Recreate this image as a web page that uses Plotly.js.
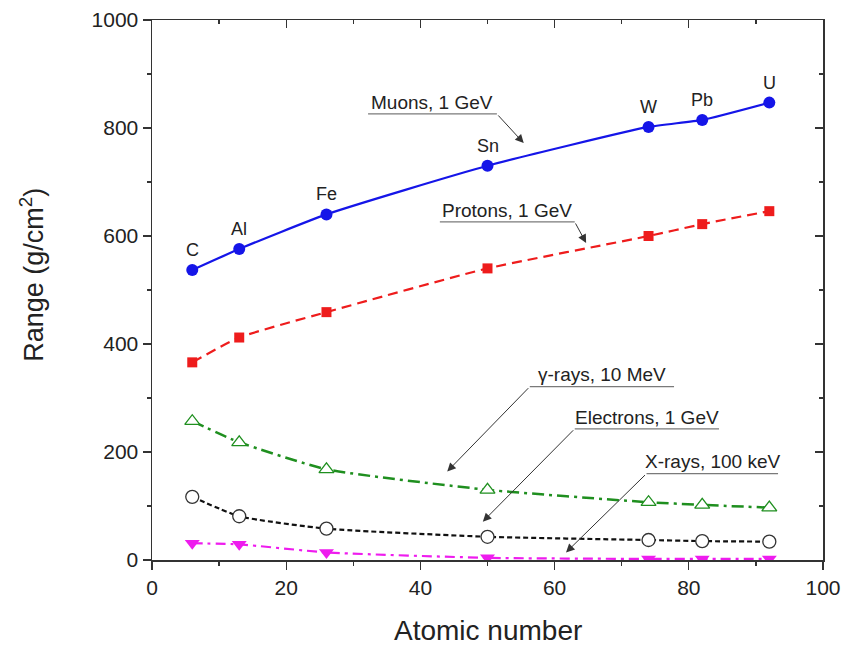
<!DOCTYPE html>
<html><head><meta charset="utf-8">
<script src="https://cdn.plot.ly/plotly-3.0.1.min.js"></script>
<style>html,body{margin:0;padding:0;background:#fff}#chart{width:844px;height:645px}</style>
</head><body><div id="chart"></div>
<script>
const atomicNumber = [6, 13, 26, 50, 74, 82, 92];
const elements = ["C", "Al", "Fe", "Sn", "W", "Pb", "U"];
const muons = [537, 576, 640, 730, 802, 815, 847];
const protons = [366, 412, 459, 540, 600, 622, 646];
const gammaRays = [257, 218, 168, 130, 107, 102, 97];
const electrons = [117, 81, 58, 43, 37, 35, 34];
const xRays = [31, 29, 14, 4, 2, 2, 2];

const F = "Liberation Sans, Arial, sans-serif";
const traces = [
  {x: atomicNumber, y: muons, mode: "lines+markers", line: {color: "#1515e8", width: 2.2, shape: "spline", smoothing: 0.5},
   marker: {symbol: "circle", size: 12, color: "#1515e8"}},
  {x: atomicNumber, y: protons, mode: "lines+markers", line: {color: "#ee1c1c", width: 2.2, dash: "10px,6px", shape: "spline", smoothing: 0.5},
   marker: {symbol: "square", size: 10, color: "#ee1c1c"}},
  {x: atomicNumber, y: gammaRays, mode: "lines+markers", line: {color: "#1f8f1f", width: 2.5, dash: "12px,5px,3px,5px", shape: "spline", smoothing: 0.5},
   marker: {symbol: "triangle-up", size: 13, color: "#ffffff", line: {width: 1.3, color: "#1f8f1f"}}},
  {x: atomicNumber, y: electrons, mode: "lines+markers", line: {color: "#111", width: 2.2, dash: "5px,3px", shape: "spline", smoothing: 0.5},
   marker: {symbol: "circle", size: 13, color: "#ffffff", line: {width: 1.3, color: "#333"}}},
  {x: atomicNumber, y: xRays, mode: "lines+markers", line: {color: "#ee1cee", width: 2.2, dash: "10px,5px,3px,5px", shape: "spline", smoothing: 0.5},
   marker: {symbol: "triangle-down", size: 13, color: "#ee1cee"}},
  {x: [null], y: [null], xaxis: "x2", yaxis: "y2", mode: "markers", hoverinfo: "skip"}
];

const ann = [];
elements.forEach((el, i) => ann.push({x: atomicNumber[i], y: muons[i], xref: "x", yref: "y", text: el, showarrow: false,
  yshift: 20, font: {family: F, size: 18, color: "#222"}}));

const callouts = [
  {text: "Muons, 1 GeV", x0: 32.2, x1: 51.4, yl: 826, yt: 848, hx: 55.4, hy: 772, tail: "right"},
  {text: "Protons, 1 GeV", x0: 42.9, x1: 63.0, yl: 626, yt: 648, hx: 64.7, hy: 587, tail: "right"},
  {text: "\u03b3-rays, 10 MeV", x0: 56.3, x1: 77.8, yl: 321, yt: 344, hx: 44.0, hy: 164, tail: "left"},
  {text: "Electrons, 1 GeV", x0: 63.0, x1: 84.5, yl: 243, yt: 264, hx: 49.3, hy: 71, tail: "left"},
  {text: "X-rays, 100 keV", x0: 73.7, x1: 93.3, yl: 160, yt: 183, hx: 61.7, hy: 14, tail: "left"}
];
const shapes = [];
callouts.forEach(c => {
  shapes.push({type: "line", xref: "x", yref: "y", x0: c.x0, x1: c.x1, y0: c.yl, y1: c.yl, line: {color: "#7a7a7a", width: 1.3}});
  ann.push({x: (c.x0 + c.x1) / 2, y: c.yt, xref: "x", yref: "y", text: c.text, showarrow: false,
    font: {family: F, size: 19, color: "#222"}});
  const tx = c.tail === "right" ? c.x1 : c.x0;
  ann.push({x: c.hx, y: c.hy, xref: "x", yref: "y", ax: tx, ay: c.yl, axref: "x", ayref: "y", text: "",
    showarrow: true, arrowhead: 2, arrowsize: 1.7, arrowwidth: 1, arrowcolor: "#333"});
});
ann.push({xref: "paper", yref: "paper", x: -0.179, y: 0.528, text: "Range (g/cm<sup>2</sup>)", textangle: -90,
  showarrow: false, xanchor: "center", yanchor: "middle", font: {family: F, size: 27, color: "#222"}});
ann.push({xref: "paper", yref: "paper", x: 0.5, y: -0.13, text: "Atomic number",
  showarrow: false, xanchor: "center", yanchor: "middle", font: {family: F, size: 28, color: "#222"}});

const axBase = {showgrid: false, zeroline: false, showline: true, linecolor: "#333", linewidth: 1.5,
  tickcolor: "#333", tickwidth: 1.3, ticklen: 8, tickfont: {family: F, size: 21, color: "#222"}};

const layout = {
  width: 844, height: 645, margin: {l: 152, r: 21, t: 20, b: 85}, showlegend: false,
  paper_bgcolor: "#fff", plot_bgcolor: "#fff",
  xaxis: Object.assign({}, axBase, {range: [0, 100], dtick: 20, ticks: "outside",
    minor: {dtick: 10, ticks: "outside", ticklen: 4, tickcolor: "#333"}}),
  yaxis: Object.assign({}, axBase, {range: [0, 1000], dtick: 200, ticks: "outside",
    minor: {dtick: 100, ticks: "outside", ticklen: 4, tickcolor: "#333"}}),
  xaxis2: Object.assign({}, axBase, {range: [0, 100], dtick: 20, ticks: "inside", side: "top", overlaying: "x",
    showticklabels: false, minor: {dtick: 10, ticks: "inside", ticklen: 4, tickcolor: "#333"}}),
  yaxis2: Object.assign({}, axBase, {range: [0, 1000], dtick: 200, ticks: "inside", side: "right", overlaying: "y",
    showticklabels: false, minor: {dtick: 100, ticks: "inside", ticklen: 4, tickcolor: "#333"}}),
  annotations: ann, shapes: shapes
};
Plotly.newPlot("chart", traces, layout, {displayModeBar: false, staticPlot: true});
</script></body></html>
